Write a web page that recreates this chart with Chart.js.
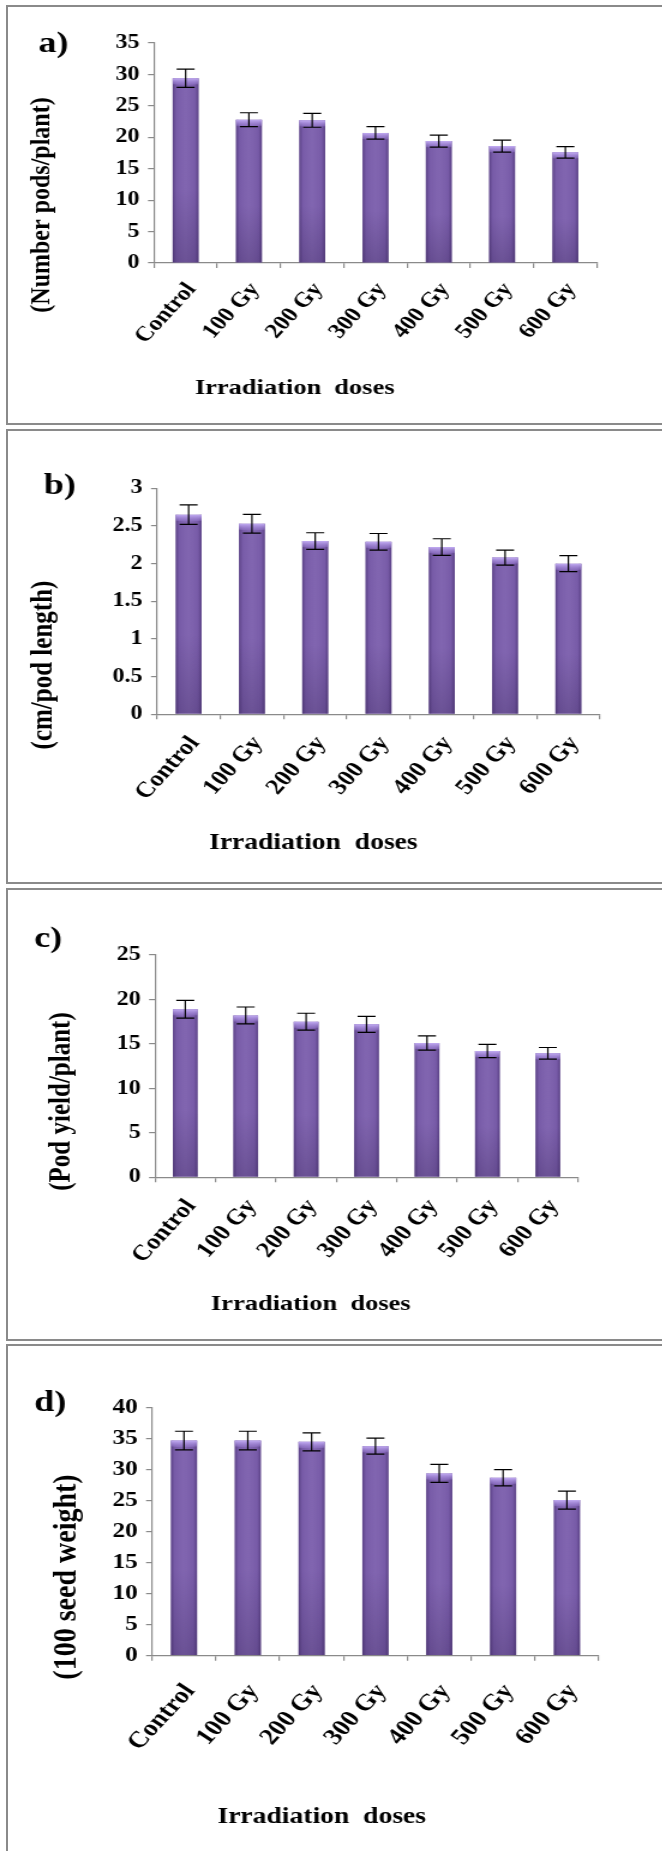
<!DOCTYPE html>
<html>
<head>
<meta charset="utf-8">
<script src="https://cdn.jsdelivr.net/npm/chart.js@4.4.0/dist/chart.umd.min.js"></script>
<style>
  html, body { margin: 0; padding: 0; background: #fff; overflow: hidden; }
  body { width: 662px; height: 1851px; position: relative; }
  .panel { position: absolute; left: 6px; width: 700px; border: 2px solid #8a8a8a; box-sizing: border-box; }
  /* the original figure is stretched sideways a little */
  .stretch { position: absolute; left: 0; transform-origin: 0 0; transform: scaleX(1.2); }
</style>
</head>
<body>
<div class="panel" style="top:5px;height:420px"></div>
<div class="panel" style="top:429px;height:455px"></div>
<div class="panel" style="top:888px;height:453px"></div>
<div class="panel" style="top:1344px;height:600px"></div>

<div class="stretch" style="top:5px"><canvas id="chartA" width="552" height="420"></canvas></div>
<div class="stretch" style="top:429px"><canvas id="chartB" width="552" height="455"></canvas></div>
<div class="stretch" style="top:888px"><canvas id="chartC" width="552" height="453"></canvas></div>
<div class="stretch" style="top:1344px"><canvas id="chartD" width="552" height="507"></canvas></div>

<script>
// Data
const doses = ['Control', '100 Gy', '200 Gy', '300 Gy', '400 Gy', '500 Gy', '600 Gy'];

const podsPerPlant = [29.4, 22.8, 22.7, 20.7, 19.4, 18.6, 17.6];
const podsPerPlantErr = [1.45, 1.1, 1.1, 1.0, 0.95, 0.95, 0.93];

const podLength = [2.65, 2.53, 2.30, 2.29, 2.22, 2.08, 2.00];
const podLengthErr = [0.13, 0.125, 0.11, 0.11, 0.11, 0.10, 0.105];

const podYield = [18.9, 18.2, 17.5, 17.2, 15.1, 14.2, 13.95];
const podYieldErr = [1.0, 0.95, 0.95, 0.9, 0.8, 0.75, 0.65];

const seedWeight = [34.7, 34.7, 34.5, 33.8, 29.4, 28.7, 25.1];
const seedWeightErr = [1.5, 1.5, 1.45, 1.3, 1.45, 1.3, 1.45];

// y axis ranges (max, step) for panels a-d
const axisMax = [35, 3, 25, 40];
const axisStep = [5, 0.5, 5, 5];

const serif = "'Liberation Serif', 'Times New Roman', serif";
const axisGray = '#8a8a8a';

// Shading, error bars and the free text of each panel
const panelDecor = {
  id: 'panelDecor',
  afterDatasetsDraw(chart, args, opts) {
    const ctx = chart.ctx;
    const meta = chart.getDatasetMeta(0);
    const yScale = chart.scales.y;
    const values = chart.data.datasets[0].data;
    ctx.save();
    meta.data.forEach((bar, i) => {
      const left = bar.x - bar.width / 2;
      const w = bar.width;
      const top = bar.y;
      const h = bar.base - bar.y;

      // slightly darker edges
      const g = ctx.createLinearGradient(left, 0, left + w, 0);
      g.addColorStop(0, 'rgba(45,25,80,0.42)');
      g.addColorStop(0.14, 'rgba(45,25,80,0.06)');
      g.addColorStop(0.5, 'rgba(255,255,255,0.04)');
      g.addColorStop(0.86, 'rgba(45,25,80,0.06)');
      g.addColorStop(1, 'rgba(45,25,80,0.42)');
      ctx.fillStyle = g;
      ctx.fillRect(left, top, w, h);

      // bottom gets darker
      const v = ctx.createLinearGradient(0, top, 0, top + h);
      v.addColorStop(0, 'rgba(30,15,55,0)');
      v.addColorStop(0.6, 'rgba(30,15,55,0)');
      v.addColorStop(1, 'rgba(30,15,55,0.22)');
      ctx.fillStyle = v;
      ctx.fillRect(left, top, w, h);

      // light bevel on top
      const b = ctx.createLinearGradient(0, top, 0, top + 7);
      b.addColorStop(0, '#c2acf2');
      b.addColorStop(1, 'rgba(160,130,220,0.25)');
      ctx.fillStyle = b;
      ctx.beginPath();
      ctx.moveTo(left, top);
      ctx.lineTo(left + w, top);
      ctx.lineTo(left + w, top + 6);
      ctx.lineTo(bar.x, top + 7);
      ctx.lineTo(left, top + 6);
      ctx.closePath();
      ctx.fill();
    });

    // error bars
    ctx.strokeStyle = '#000';
    ctx.lineWidth = 1.2;
    meta.data.forEach((bar, i) => {
      const yTop = yScale.getPixelForValue(values[i] + opts.errors[i]);
      const yBot = yScale.getPixelForValue(values[i] - opts.errors[i]);
      const half = 7.5;
      ctx.beginPath();
      ctx.moveTo(bar.x, yTop); ctx.lineTo(bar.x, yBot);
      ctx.moveTo(bar.x - half, yTop); ctx.lineTo(bar.x + half, yTop);
      ctx.moveTo(bar.x - half, yBot); ctx.lineTo(bar.x + half, yBot);
      ctx.stroke();
    });
    ctx.restore();
  },
  afterDraw(chart, args, opts) {
    const ctx = chart.ctx;
    ctx.save();
    ctx.fillStyle = '#000';
    ctx.textBaseline = 'middle';
    ctx.textAlign = 'left';
    ctx.font = `bold ${opts.letterSize}px ${serif}`;
    ctx.fillText(opts.letter, opts.letterPos[0], opts.letterPos[1]);
    ctx.font = `bold ${opts.xTitleSize}px ${serif}`;
    ctx.fillText(opts.xTitle, opts.xTitlePos[0], opts.xTitlePos[1]);
    ctx.translate(opts.yTitlePos[0], opts.yTitlePos[1]);
    ctx.rotate(-Math.PI / 2);
    ctx.textAlign = 'center';
    ctx.font = `bold ${opts.yTitleSize}px ${serif}`;
    ctx.fillText(opts.yTitle, 0, 0);
    ctx.restore();
  }
};

const panels = [
  { id: 'chartA', values: podsPerPlant, errors: podsPerPlantErr, k: 0,
    letter: 'a)', yTitle: '(Number pods/plant)',
    pad: { left: 83.3, right: 54.5, top: 38, bottom: 62 },
    letterPos: [32, 39], yTitlePos: [35, 200], yTitleSize: 24,
    xTitlePos: [162.5, 383], xTitleSize: 22,
    tickSize: 20, xTickSize: 21, xTickPad: 10 },
  { id: 'chartB', values: podLength, errors: podLengthErr, k: 1,
    letter: 'b)', yTitle: '(cm/pod length)',
    pad: { left: 85.8, right: 52, top: 59.3, bottom: 69.7 },
    letterPos: [36.5, 57], yTitlePos: [36.7, 236], yTitleSize: 25,
    xTitlePos: [174.2, 414], xTitleSize: 23,
    tickSize: 20, xTickSize: 22, xTickPad: 12 },
  { id: 'chartC', values: podYield, errors: podYieldErr, k: 2,
    letter: 'c)', yTitle: '(Pod yield/plant)',
    pad: { left: 84.2, right: 70.3, top: 67, bottom: 63.7 },
    letterPos: [28.5, 51], yTitlePos: [51.7, 213.5], yTitleSize: 25,
    xTitlePos: [175.8, 416], xTitleSize: 22,
    tickSize: 20, xTickSize: 22, xTickPad: 12 },
  { id: 'chartD', values: seedWeight, errors: seedWeightErr, k: 3,
    letter: 'd)', yTitle: '(100 seed weight)',
    pad: { left: 81.7, right: 53, top: 63.7, bottom: 95.3 },
    letterPos: [28.5, 59], yTitlePos: [55.4, 233], yTitleSize: 28,
    xTitlePos: [181.2, 473], xTitleSize: 23,
    tickSize: 21, xTickSize: 23, xTickPad: 18 }
];

panels.forEach(p => {
  new Chart(document.getElementById(p.id), {
    type: 'bar',
    data: {
      labels: doses,
      datasets: [{
        data: p.values,
        backgroundColor: '#7c5fad',
        borderWidth: 0,
        barPercentage: 0.41,
        categoryPercentage: 1
      }]
    },
    options: {
      responsive: false,
      animation: false,
      devicePixelRatio: 1,
      layout: { padding: p.pad },
      plugins: {
        legend: { display: false },
        tooltip: { enabled: false },
        panelDecor: {
          errors: p.errors,
          letter: p.letter, letterPos: p.letterPos, letterSize: 30,
          yTitle: p.yTitle, yTitlePos: p.yTitlePos, yTitleSize: p.yTitleSize,
          xTitle: 'Irradiation  doses', xTitlePos: p.xTitlePos, xTitleSize: p.xTitleSize
        }
      },
      scales: {
        x: {
          grid: { offset: true, drawOnChartArea: false, drawTicks: true, tickLength: 5, color: axisGray, lineWidth: 1.2 },
          border: { color: axisGray, width: 1.2 },
          ticks: {
            color: '#000',
            font: { family: serif, weight: 'bold', size: p.xTickSize },
            minRotation: 52, maxRotation: 52, autoSkip: false,
            padding: p.xTickPad, labelOffset: 5
          },
          afterFit: s => { s.height = 100; }
        },
        y: {
          min: 0,
          max: axisMax[p.k],
          grid: { drawOnChartArea: false, drawTicks: true, tickLength: 5, color: axisGray, lineWidth: 1.2 },
          border: { color: axisGray, width: 1.2 },
          ticks: {
            stepSize: axisStep[p.k],
            color: '#000',
            font: { family: serif, weight: 'bold', size: p.tickSize },
            padding: 7,
            callback: value => String(value)
          },
          afterFit: s => { s.width = 45; }
        }
      }
    },
    plugins: [panelDecor]
  });
});
</script>
</body>
</html>
